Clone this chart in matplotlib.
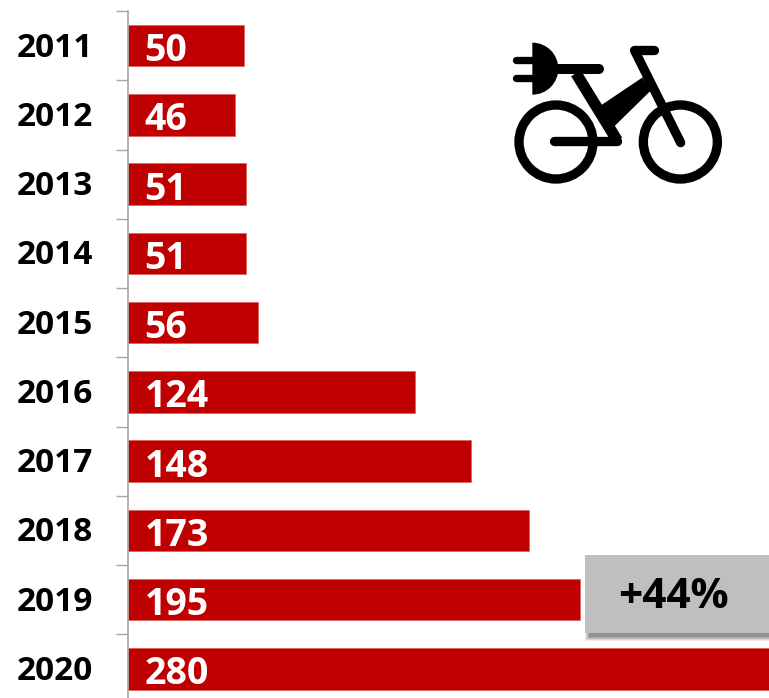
import matplotlib
matplotlib.use('Agg')
import matplotlib.pyplot as plt
from matplotlib.patches import Circle, Polygon, Rectangle, Wedge
from matplotlib.transforms import ScaledTranslation

years = ['2011', '2012', '2013', '2014', '2015', '2016', '2017', '2018', '2019', '2020']
sales = [50, 46, 51, 51, 56, 124, 148, 173, 195, 280]
growth_label = '+44%'

W, H = 769, 698
RED = '#C00000'
plt.rcParams['font.family'] = ['Open Sans', 'DejaVu Sans']

fig = plt.figure(figsize=(W / 100, H / 100), dpi=100)
ax = fig.add_axes([128 / W, 0, (W - 128) / W, (H - 11) / H])

pos = list(range(len(years)))
ax.barh(pos, sales, height=0.6, color=RED, edgecolor='#D9534F', linewidth=0.4)
ax.set_xlim(0, 276.5)
ax.set_ylim(9.42, -0.5)

for i, v in enumerate(sales):
    ax.annotate(str(v), xy=(0, i), xytext=(12, -4), textcoords='offset points',
                color='white', fontsize=27, fontweight='bold', ha='left', va='center')

for s in ['top', 'right', 'bottom']:
    ax.spines[s].set_visible(False)
ax.spines['left'].set_color('#A6A6A6')
ax.spines['left'].set_linewidth(1.2)
ax.set_xticks([])
ax.set_yticks(pos)
ax.set_yticklabels(years, fontsize=24, fontweight='bold', color='black')
ax.tick_params(axis='y', which='major', length=0, pad=25)
ax.set_yticks([p - 0.5 for p in pos], minor=True)
ax.tick_params(axis='y', which='minor', length=8.5, width=1.0, color='#A6A6A6')
# nudge year labels up a bit
for lab in ax.get_yticklabels():
    lab.set_transform(lab.get_transform() + ScaledTranslation(0, 1.5 / 100, fig.dpi_scale_trans))

# overlay in pixel coords for the box and the icon
ov = fig.add_axes([0, 0, 1, 1])
ov.set_xlim(0, W)
ov.set_ylim(H, 0)
ov.axis('off')
ov.patch.set_alpha(0)

# soft shadow under the callout
for grow, a in [(4, 0.10), (3, 0.12), (2, 0.15), (1, 0.18), (0, 0.2)]:
    ov.add_patch(Rectangle((589 - grow, 559 - grow), 190, 78 + 2 * grow,
                           color='#404040', alpha=a, lw=0))
ov.add_patch(Rectangle((585, 555), 190, 78, color='#BFBFBF', lw=0))
ov.text(673.5, 598, growth_label, fontsize=30.5, fontweight='bold', color='black',
        ha='center', va='center')


def zx(x):
    return 490 + x / 3


def zy(y):
    return 20 + y / 3


def stroke(x1, y1, x2, y2, w, cap='round'):
    ov.plot([zx(x1), zx(x2)], [zy(y1), zy(y2)], color='black', lw=w / 3 * 0.72,
            solid_capstyle=cap)


for cx in [198, 571]:
    ov.add_patch(Circle((zx(cx), zy(366)), 111 / 3, fill=False, ec='black', lw=28 / 3 * 0.72))

ov.add_patch(Wedge((zx(127), zy(146)), 78 / 3, -90, 90, color='black', lw=0))
stroke(77, 119, 130, 119, 22)
stroke(77, 173, 130, 173, 22)
stroke(190, 146, 328, 146, 30)
stroke(258, 160, 382, 362, 34, cap='butt')
stroke(192, 362, 382, 362, 28)
stroke(432, 90, 493, 90, 28)
stroke(436, 96, 572, 368, 28)
ov.add_patch(Polygon([(zx(a), zy(b)) for a, b in
                      [(333, 256), (458, 172), (482, 212), (372, 320), (345, 300)]],
                     color='black', lw=0))

fig.savefig('out.png', dpi=100)
